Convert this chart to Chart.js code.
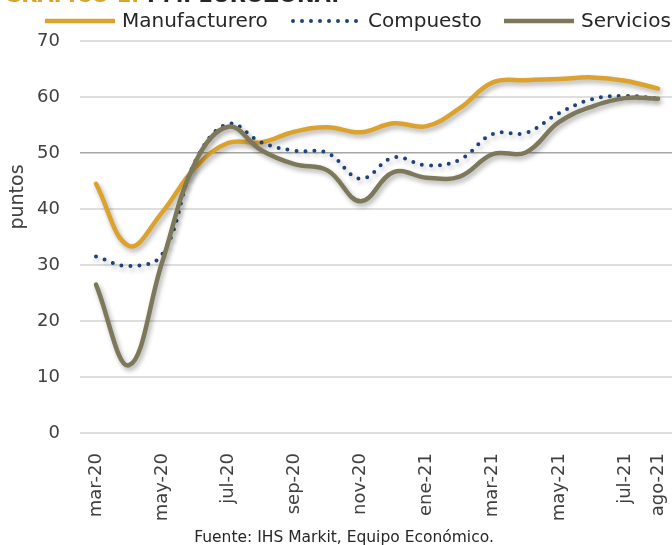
<!DOCTYPE html>
<html>
<head>
<meta charset="utf-8">
<script src="https://cdn.jsdelivr.net/npm/chart.js@4"></script>
<style>
html,body{margin:0;padding:0;background:#fff;}
#wrap{width:672px;height:545px;position:relative;}
</style>
</head>
<body>
<div id="wrap"><canvas id="c" width="672" height="545"></canvas></div>
<script>
const months = ["mar-20","abr-20","may-20","jun-20","jul-20","ago-20","sep-20","oct-20","nov-20","dic-20","ene-21","feb-21","mar-21","abr-21","may-21","jun-21","jul-21","ago-21"];
const tickIndexes = [0,2,4,6,8,10,12,14,16,17];
const manufacturero = [44.5,33.4,39.4,47.4,51.8,51.9,53.8,54.6,53.7,55.3,54.8,58.0,62.6,63.0,63.2,63.5,62.9,61.5];
const compuesto = [31.5,29.8,31.9,48.5,55.2,51.9,50.4,50.0,45.4,49.2,47.8,48.8,53.4,53.6,57.1,59.6,60.2,59.7];
const servicios = [26.5,12.1,30.5,48.3,54.7,50.5,48.0,46.9,41.4,46.6,45.6,45.8,49.8,50.1,55.5,58.3,59.8,59.7];
const yTicks = [0,10,20,30,40,50,60,70];
const legendX = [45, 291, 504];

const FONT = "'DejaVu Sans', sans-serif";
const toXY = arr => arr.map((v,i)=>({x:i,y:v}));

const shadowPlugin = {
  id:'shadow',
  beforeDatasetDraw(chart){
    const ctx=chart.ctx; ctx.save();
    ctx.shadowColor='rgba(0,0,0,0.32)';
    ctx.shadowBlur=5; ctx.shadowOffsetX=2; ctx.shadowOffsetY=3;
  },
  afterDatasetDraw(chart){ chart.ctx.restore(); }
};

const textPlugin = {
  id:'texts',
  afterDraw(chart){
    const ctx=chart.ctx; ctx.save();
    // cut-off title at very top
    ctx.font = "bold 21px " + FONT;
    ctx.textBaseline='alphabetic'; ctx.textAlign='left';
    ctx.fillStyle='#DBA32D';
    ctx.fillText('GRÁFICO 1:', 4, 2);
    ctx.fillStyle='#262626';
    ctx.fillText('PMI EUROZONA.', 147, 2);
    // legend
    ctx.font = "20px " + FONT;
    ctx.textBaseline='middle';
    chart.data.datasets.forEach((ds,i)=>{
      const x0 = legendX[i], y = 21;
      ctx.save();
      ctx.strokeStyle = ds.borderColor;
      ctx.lineWidth = ds.borderWidth;
      ctx.lineCap = ds.borderDash ? 'round' : 'butt';
      ctx.setLineDash(ds.borderDash || []);
      ctx.beginPath(); ctx.moveTo(x0 + (ds.borderDash?2:0), y); ctx.lineTo(x0+70, y); ctx.stroke();
      ctx.restore();
      ctx.fillStyle='#262626';
      ctx.fillText(ds.label, x0+77, y+1);
    });
    // y axis title
    ctx.font = "19px " + FONT;
    ctx.fillStyle='#404040';
    ctx.translate(18,197); ctx.rotate(-Math.PI/2);
    ctx.textAlign='center'; ctx.textBaseline='middle';
    ctx.fillText('puntos',0,0);
    ctx.restore();
    ctx.save();
    ctx.font = "15.5px " + FONT;
    ctx.fillStyle='#262626';
    ctx.textAlign='center'; ctx.textBaseline='alphabetic';
    ctx.fillText('Fuente: IHS Markit, Equipo Económico.', 344, 542);
    ctx.restore();
  }
};

new Chart(document.getElementById('c'), {
  type:'line',
  data:{
    datasets:[
      {label:'Manufacturero', data:toXY(manufacturero), borderColor:'#DBA32D', borderWidth:4.5, tension:0.4, pointRadius:0, order:3, borderCapStyle:'round'},
      {label:'Compuesto', data:toXY(compuesto), borderColor:'#1F4278', borderWidth:4, borderDash:[0,9], borderCapStyle:'round', tension:0.4, pointRadius:0, order:2},
      {label:'Servicios', data:toXY(servicios), borderColor:'#7D7859', borderWidth:4.5, tension:0.4, pointRadius:0, order:1, borderCapStyle:'round'}
    ]
  },
  options:{
    responsive:false, animation:false,
    layout:{padding:{top:41,left:0,right:0,bottom:0}},
    plugins:{
      legend:{display:false},
      tooltip:{enabled:false}
    },
    scales:{
      x:{
        type:'linear', min:-0.484, max:17.42,
        afterBuildTicks:(s)=>{ s.ticks = tickIndexes.map(v=>({value:v})); },
        afterFit:(s)=>{ s.height = 112; s.paddingRight = 0; s.paddingLeft = 0; },
        grid:{display:false}, border:{display:false},
        ticks:{autoSkip:false, maxRotation:90, minRotation:90, padding:12, color:'#404040', font:{family:FONT,size:18},
          callback:(v)=>months[v]}
      },
      y:{
        min:0, max:70,
        afterBuildTicks:(s)=>{ s.ticks = yTicks.map(v=>({value:v})); },
        afterFit:(s)=>{ s.width = 80; },
        border:{display:false},
        grid:{color:(c)=>c.tick && c.tick.value===50 ? '#A6A6A6' : '#DEDEDE', lineWidth:(c)=>c.tick && c.tick.value===50 ? 1.5 : 2, drawTicks:false},
        ticks:{padding:20, color:'#404040', font:{family:FONT,size:18}}
      }
    }
  },
  plugins:[shadowPlugin, textPlugin]
});
</script>
</body>
</html>
